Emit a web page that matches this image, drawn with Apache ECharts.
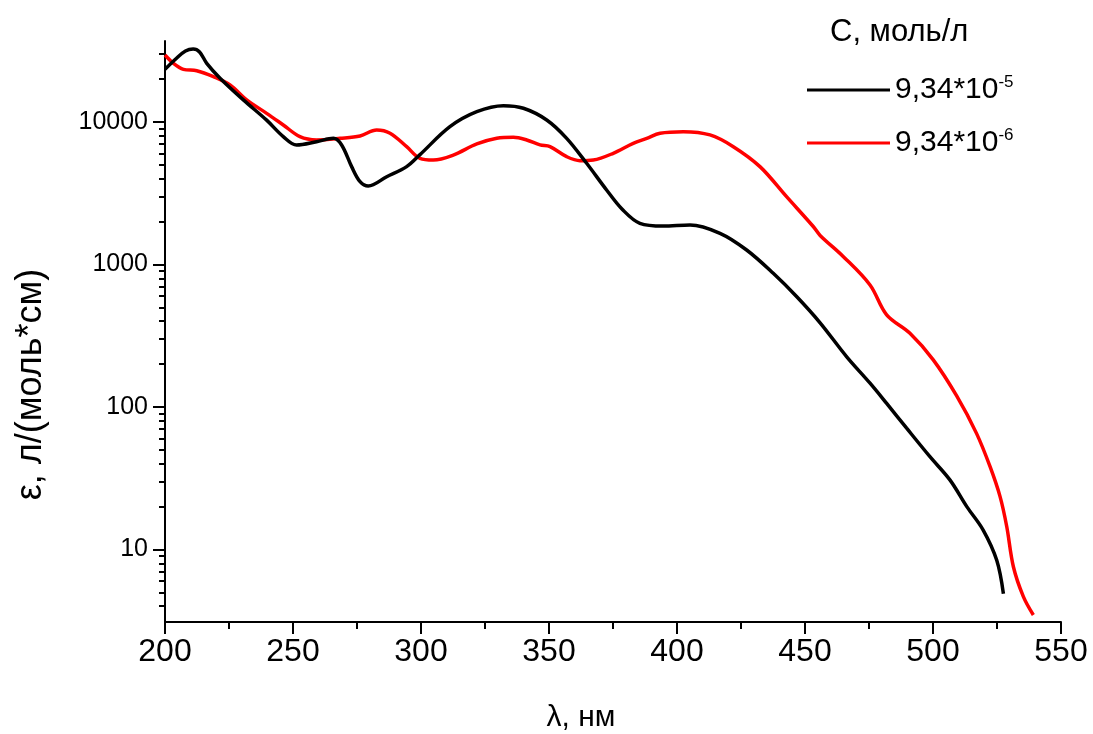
<!DOCTYPE html>
<html><head><meta charset="utf-8">
<script src="https://cdn.jsdelivr.net/npm/echarts@6.0.0/dist/echarts.min.js"></script>
<style>html,body{margin:0;padding:0;background:#fff}#c{width:1093px;height:734px}</style>
</head><body><div id="c"></div>
<script>
const xTickLabels = [200, 250, 300, 350, 400, 450, 500, 550];
const yMajorTicks = [10, 100, 1000, 10000];
const yMinorTicks = [4,5,6,7,8,9,20,30,40,50,60,70,80,90,200,300,400,500,600,700,800,900,2000,3000,4000,5000,6000,7000,8000,9000,20000,30000];
const legendTitle = 'С, моль/л';
const seriesNames = ['9,34*10^-5', '9,34*10^-6'];
const xTitle = 'λ, нм';
const yTitle = 'ε, л/(моль*см)';

// [wavelength nm, epsilon]
const seriesBlack = [
[200,23400],[204.5,28000],[208,31500],[211,32500],[213.5,31000],[216.3,25800],[221.5,20300],
[230.6,14300],[239.7,10300],[246.2,7900],[251.4,6900],[259.2,7270],[265.8,7680],[269,6900],
[272.9,4860],[276.2,3810],[279.4,3550],[286.6,4130],[294.4,4860],[299.6,5900],[311.3,9270],
[321.8,11810],[332.2,13010],[340,12480],[349.1,10330],[356.9,7680],[364.7,5130],[372.5,3330],
[378.5,2450],[385.5,1945],[394.6,1862],[405.1,1893],[416.8,1655],[427.2,1264],[437.6,867],
[446.8,594],[455.9,390],[466.3,225],[475.4,147],[481.9,106],[489.7,71],[498.8,44.8],
[506.6,30.8],[513.2,20],[519.6,13.7],[524.9,8.4],[527.5,4.9]
];
const seriesRed = [
[200,29500],[203.3,25800],[207.2,23400],[212.4,22900],[218.9,20800],[225.4,18200],[231.9,14300],
[239.7,11500],[246.2,9530],[252.7,7890],[259.2,7480],[268.4,7680],[276.2,7980],[282.7,8790],
[287.9,8340],[294.4,6710],[299.6,5560],[304.8,5410],[312.6,5860],[321.8,7010],[329.6,7680],
[336.1,7810],[341.3,7480],[346.5,6900],[350.4,6710],[356.9,5710],[362.1,5350],[367.3,5410],
[375.1,6030],[382.9,7080],[388.2,7680],[393.4,8340],[402.5,8550],[412.9,8110],[422,6710],
[432.4,4860],[442.8,2990],[453.3,1840],[455.9,1600],[465,1135],[475.4,718],[481.9,443],
[491,329],[500.1,214],[509.2,120],[517,65.3],[522.3,38.1],[526.2,23.5],[528.8,14.5],
[531.4,7.57],[535.3,4.67],[539.2,3.47]
];

const FONT = 'Liberation Sans, Arial, sans-serif';
const Y_MIN = 3.1, Y_MAX = 37000;
const chart = echarts.init(document.getElementById('c'), null, {renderer: 'canvas'});
const axisCol = '#000';

chart.setOption({
  animation: false,
  backgroundColor: '#fff',
  textStyle: {fontFamily: FONT},
  title: {
    text: legendTitle, left: 825, top: 12,
    textStyle: {fontSize: 31, fontWeight: 'normal', color: '#000', fontFamily: FONT}
  },
  legend: {
    data: seriesNames, orient: 'vertical', left: 802, top: 69,
    icon: 'rect', itemWidth: 83, itemHeight: 3, itemGap: 22,
    formatter: n => { const p = n.split('^'); return '{a|' + p[0] + '}{b|' + p[1] + '}'; },
    textStyle: {
      color: '#000', fontFamily: FONT,
      rich: {
        a: {fontSize: 30, lineHeight: 32, color: '#000', fontFamily: FONT},
        b: {fontSize: 17, lineHeight: 17, verticalAlign: 'top', color: '#000', fontFamily: FONT}
      }
    }
  },
  grid: {left: 165, right: 32, top: 41, bottom: 112, containLabel: false, outerBoundsMode: 'none'},
  xAxis: {
    type: 'value', min: xTickLabels[0], max: xTickLabels[xTickLabels.length - 1], interval: 50,
    name: xTitle, nameLocation: 'middle', nameGap: 81,
    nameTextStyle: {fontSize: 30, color: '#000', fontFamily: FONT, padding: [0, 64, 0, 0]},
    axisLine: {show: true, onZero: false, lineStyle: {color: axisCol, width: 2}},
    axisTick: {show: true, inside: false, length: 12, lineStyle: {color: axisCol, width: 2}},
    minorTick: {show: true, splitNumber: 2, length: 7, lineStyle: {color: axisCol, width: 2}},
    axisLabel: {fontSize: 32, color: '#000', margin: 14, fontFamily: FONT},
    splitLine: {show: false}, minorSplitLine: {show: false}
  },
  yAxis: [{
    type: 'log', min: Y_MIN, max: Y_MAX, logBase: 10,
    name: yTitle, nameLocation: 'middle', nameGap: 116, nameRotate: 90,
    nameTextStyle: {fontSize: 36, color: '#000', fontFamily: FONT, padding: [0, 106, 0, 0]},
    axisLine: {show: true, onZero: false, lineStyle: {color: axisCol, width: 2}},
    axisTick: {show: true, inside: false, length: 12, customValues: yMajorTicks, lineStyle: {color: axisCol, width: 2}},
    axisLabel: {fontSize: 25, color: '#000', margin: 17, fontFamily: FONT, customValues: yMajorTicks,
      formatter: v => String(Math.round(v))},
    splitLine: {show: false}
  }, {
    type: 'log', min: Y_MIN, max: Y_MAX, logBase: 10, position: 'left', offset: 0,
    axisLine: {show: false},
    axisTick: {show: true, inside: false, length: 6, customValues: yMinorTicks, lineStyle: {color: axisCol, width: 2}},
    axisLabel: {show: false},
    splitLine: {show: false}
  }],
  series: [{
    name: seriesNames[0], type: 'line', data: seriesBlack, yAxisIndex: 0,
    showSymbol: false, symbol: 'none', smooth: 0.35,
    lineStyle: {color: '#000', width: 3.5}, itemStyle: {color: '#000'}, z: 3
  }, {
    name: seriesNames[1], type: 'line', data: seriesRed, yAxisIndex: 0,
    showSymbol: false, symbol: 'none', smooth: 0.35,
    lineStyle: {color: '#ff0000', width: 3.5}, itemStyle: {color: '#ff0000'}, z: 2
  }]
});
</script></body></html>
